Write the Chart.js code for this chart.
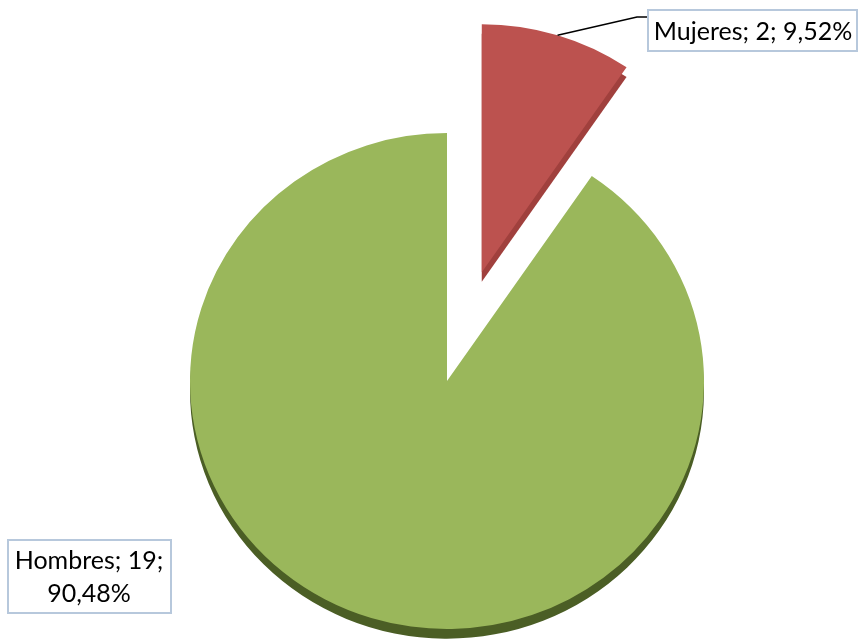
<!DOCTYPE html>
<html>
<head>
<meta charset="utf-8">
<script src="https://cdn.jsdelivr.net/npm/chart.js@4"></script>
<style>
  html, body { margin: 0; padding: 0; background: #fff; }
  #wrap { width: 860px; height: 642px; }
</style>
</head>
<body>
<div id="wrap"><canvas id="pie" width="860" height="642"></canvas></div>
<script>
const labels = ['Mujeres', 'Hombres'];
const values = [2, 19];
const colors = ['#BC524F', '#9AB75B'];
const sideColors = ['#A0403D', '#4B5E25'];

const pieRadius = 257;
const explode = [118, 0];   // how far each slice is pulled out
const tiltY = 0.965;        // pie is seen a little from above

function pct(v) {
  const total = values.reduce((a, b) => a + b, 0);
  return (v / total * 100).toFixed(2).replace('.', ',') + '%';
}

// chart.js moves an arc by offset/4, grows it a bit and trims its angle
function arcFix(circumference) {
  return 1 - Math.sin(Math.min(Math.PI, circumference || 0));
}

function geom(arc, i) {
  const mid = (arc.startAngle + arc.endAngle) / 2;
  const t = explode[i];
  return {
    x: arc.x + Math.cos(mid) * t,
    y: arc.y + Math.sin(mid) * t,
    r: pieRadius,
    start: arc.startAngle,
    end: arc.endAngle,
    mid: mid
  };
}

// undo the growth and the trim so the slice keeps its real size
const explodePlugin = {
  id: 'explode',
  afterDatasetUpdate(chart, args) {
    args.meta.data.forEach((arc, i) => {
      const t = explode[i];
      if (!t) return;
      const ro = t * arcFix(arc.circumference);
      arc.outerRadius = pieRadius - ro;
      const shrink = ro / Math.PI / pieRadius / 2;
      arc.startAngle -= shrink;
      arc.endAngle += shrink;
    });
  }
};

const tiltPlugin = {
  id: 'tilt',
  beforeDatasetsDraw(chart) {
    const ctx = chart.ctx;
    const arcs = chart.getDatasetMeta(0).data;
    const cx = arcs[0].x, cy = arcs[0].y;
    ctx.save();
    ctx.translate(cx, cy);
    ctx.scale(1, tiltY);
    ctx.translate(-cx, -cy);
    // darker side of the pie, drawn a bit lower
    arcs.forEach((arc, i) => {
      const g = geom(arc, i);
      const shrink = explode[i] ? explode[i] * arcFix(arc.circumference) / Math.PI / pieRadius / 2 : 0;
      ctx.save();
      ctx.translate(0, 10);
      ctx.beginPath();
      ctx.moveTo(g.x, g.y);
      ctx.arc(g.x, g.y, g.r, g.start + shrink, g.end - shrink);
      ctx.closePath();
      ctx.fillStyle = sideColors[i];
      ctx.fill();
      ctx.restore();
    });
  },
  afterDatasetsDraw(chart) {
    chart.ctx.restore();
  }
};

const labelPlugin = {
  id: 'boxLabels',
  afterDraw(chart) {
    const ctx = chart.ctx;
    const arcs = chart.getDatasetMeta(0).data;
    ctx.save();
    ctx.font = '25px Lato, "Open Sans", sans-serif';
    ctx.textAlign = 'center';
    ctx.textBaseline = 'alphabetic';

    // Mujeres: leader line + box
    const a = arcs[0];
    const g = geom(a, 0);
    const sx = g.x + Math.cos(g.mid) * g.r;
    const sy = a.y + (g.y + Math.sin(g.mid) * g.r - a.y) * tiltY;
    ctx.strokeStyle = '#000';
    ctx.lineWidth = 1.5;
    ctx.beginPath();
    ctx.moveTo(sx, sy);
    ctx.lineTo(637, 17);
    ctx.lineTo(648, 17);
    ctx.stroke();

    ctx.fillStyle = '#fff';
    ctx.fillRect(648, 10, 209, 41);
    ctx.strokeStyle = '#B7C8DC';
    ctx.lineWidth = 2;
    ctx.strokeRect(648, 10, 209, 41);
    ctx.fillStyle = '#000';
    ctx.fillText(labels[0] + '; ' + values[0] + '; ' + pct(values[0]), 753, 40);

    // Hombres box
    ctx.fillStyle = '#fff';
    ctx.fillRect(8, 540, 163, 73);
    ctx.strokeStyle = '#B7C8DC';
    ctx.strokeRect(8, 540, 163, 73);
    ctx.fillStyle = '#000';
    ctx.fillText(labels[1] + '; ' + values[1] + ';', 89, 569);
    ctx.fillText(pct(values[1]), 89, 602);
    ctx.restore();
  }
};

new Chart(document.getElementById('pie').getContext('2d'), {
  type: 'pie',
  data: {
    labels: labels,
    datasets: [{
      data: values,
      backgroundColor: colors,
      borderWidth: 0,
      offset: explode.map(t => t * 4),
      radius: pieRadius,
      clip: false
    }]
  },
  options: {
    responsive: false,
    animation: false,
    layout: { padding: { left: 34, top: 120, right: 0, bottom: 0 } },
    plugins: {
      legend: { display: false },
      tooltip: { enabled: false }
    }
  },
  plugins: [explodePlugin, tiltPlugin, labelPlugin]
});
</script>
</body>
</html>
